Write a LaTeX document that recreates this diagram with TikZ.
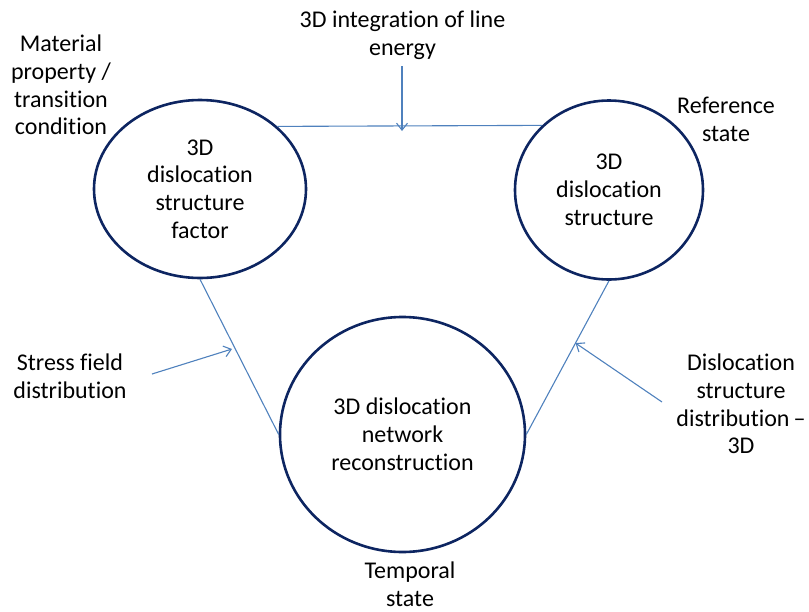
\documentclass[tikz,border=0pt]{standalone}
\usepackage{fontspec}
\setmainfont{Carlito}[Ligatures={NoCommon}]
\usetikzlibrary{arrows.meta,calc,shapes.geometric}

\definecolor{ringblue}{HTML}{0D2561}
\definecolor{linkblue}{HTML}{4F81BD}

\tikzset{
  ring/.style={ellipse, draw=ringblue, line width=2.6pt, inner sep=0pt,
    align=center, font=\fontsize{24}{27.8}\selectfont},
  label/.style={align=center, inner sep=0pt, font=\fontsize{24}{27.8}\selectfont},
  link/.style={draw=linkblue, line width=1.1pt},
  feed/.style={link, -{Straight Barb[length=7pt,width=11pt,line width=1.1pt]}}
}

\begin{document}
\begin{tikzpicture}[x=1pt,y=-1pt]
  \useasboundingbox (0,0) rectangle (809,611);

  % the three states
  \node[ring, minimum width=212, minimum height=178] (L) at (200,189)
    {3D\\dislocation\\structure\\factor};
  \node[ring, minimum width=188, minimum height=179] (R) at (609,190)
    {3D\\dislocation\\structure};
  \node[ring, minimum width=245, minimum height=235] (B) at (402.5,434.5)
    {3D dislocation\\network\\reconstruction};

  % connections between the states
  \draw[link] (L.39.2) -- (R.136.5);
  \draw[link] (L.south) -- (B.west);
  \draw[link] (R.south) -- (B.east);

  % outer labels
  \node[label] (mat) at (61,85) {Material\\property /\\transition\\condition};
  \node[label] (integ) at (402.5,35) {3D integration of line\\energy};
  \node[label] (ref) at (726,119) {Reference\\state};
  \node[label] (stress) at (70,376) {Stress field\\distribution};
  \node[label] (dist) at (741,404) {Dislocation\\structure\\distribution\,–\\3D};
  \node[label] (temp) at (410,584) {Temporal\\state};

  % input arrows
  \coordinate (integS) at (402,66);
  \coordinate (integE) at (402,131);
  \draw[feed] (integS) -- (integE);

  \coordinate (stressS) at (152,374);
  \coordinate (stressE) at (232,349);
  \draw[feed] (stressS) -- (stressE);

  \coordinate (distS) at (662,402);
  \coordinate (distE) at ($(R.south)!0.405!(B.east)$);
  \draw[feed] (distS) -- (distE);
\end{tikzpicture}
\end{document}
